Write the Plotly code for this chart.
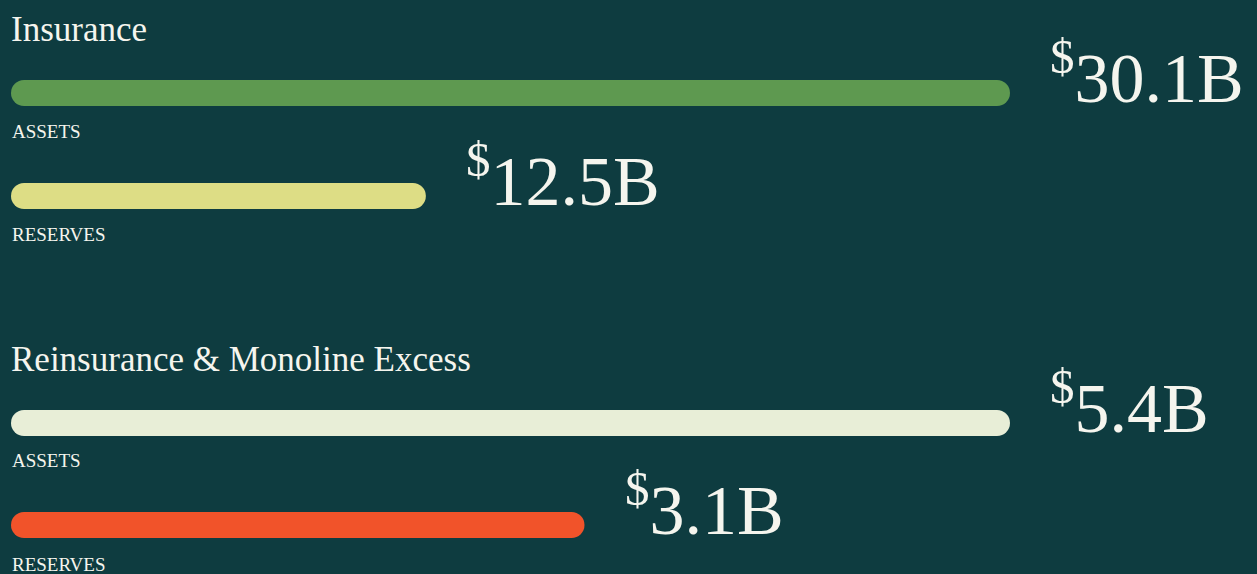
import plotly.graph_objects as go

# ---- data ----
groups = ["Insurance", "Reinsurance & Monoline Excess"]
metrics = ["ASSETS", "RESERVES"]
insurance_values = [30.1, 12.5]          # $B
reinsurance_values = [5.4, 3.1]          # $B
insurance_colors = ["#5e9950", "#dddd85"]
reinsurance_colors = ["#e8eed7", "#f1532a"]

# ---- layout constants (pixels; y axis maps 1:1 to pixels) ----
W, H = 1257, 574
BG = "#0e3c40"
TXT = "#f5f5ee"
FONT = "Liberation Serif"
BAR_H = 26
X0_PX = 11          # pixel of value 0 (left end of bars)
XMAX_PX = 1010      # pixel where the largest bar of each group ends
bar_y = {0: [93, 196], 1: [423, 525]}
title_base = [42, 372]
label_base = {0: [139, 242], 1: [468, 572]}
VAL_FS, TITLE_FS, LABEL_FS = 70, 35, 19


def axis_range(vmax):
    k = (XMAX_PX - X0_PX) / vmax
    return [-X0_PX / k, (W - X0_PX) / k]


fig = go.Figure()
annotations = []

for gi, (vals, cols) in enumerate([(insurance_values, insurance_colors),
                                   (reinsurance_values, reinsurance_colors)]):
    xa = "x" if gi == 0 else "x2"
    ys = bar_y[gi]
    fig.add_trace(go.Bar(x=vals, y=ys, base=0, orientation="h", width=BAR_H,
                         marker=dict(color=cols, line=dict(width=0)),
                         xaxis=xa, yaxis="y", hoverinfo="x", showlegend=False))
    # group title
    annotations.append(dict(text=groups[gi], xref="paper", yref="y",
                            x=9 / W, y=ys[0], xanchor="left", yanchor="bottom",
                            yshift=ys[0] - (title_base[gi] + 0.216 * TITLE_FS + 1),
                            showarrow=False,
                            font=dict(family=FONT, size=TITLE_FS, color=TXT)))
    for mi, (v, y) in enumerate(zip(vals, ys)):
        # metric label under the bar
        lb = label_base[gi][mi]
        annotations.append(dict(text=metrics[mi], xref="paper", yref="y",
                                x=10 / W, y=y, xanchor="left", yanchor="bottom",
                                yshift=y - (lb + 0.216 * LABEL_FS + 1),
                                showarrow=False,
                                font=dict(family=FONT, size=LABEL_FS, color=TXT)))
        # value label
        vb = y + 10
        annotations.append(dict(text=f"<sup>$</sup>{v:.1f}B", xref=xa, yref="y",
                                x=v, y=y, xanchor="left", yanchor="bottom",
                                xshift=38,
                                yshift=y - (vb + 0.216 * VAL_FS + 1),
                                showarrow=False,
                                font=dict(family=FONT, size=VAL_FS, color=TXT)))

fig.update_layout(
    width=W, height=H,
    margin=dict(l=0, r=0, t=0, b=0),
    paper_bgcolor=BG, plot_bgcolor=BG,
    barmode="overlay", barcornerradius=BAR_H / 2,
    xaxis=dict(range=axis_range(max(insurance_values)), visible=False, fixedrange=True),
    xaxis2=dict(range=axis_range(max(reinsurance_values)), visible=False,
                overlaying="x", fixedrange=True),
    yaxis=dict(range=[H, 0], visible=False, fixedrange=True),
    annotations=annotations,
    showlegend=False,
)

fig.write_html("out.html",
               config={"displayModeBar": False},
               post_script="document.body.style.margin='0';"
                           "document.body.style.background='" + BG + "';"
                           "document.body.style.overflow='hidden';")
